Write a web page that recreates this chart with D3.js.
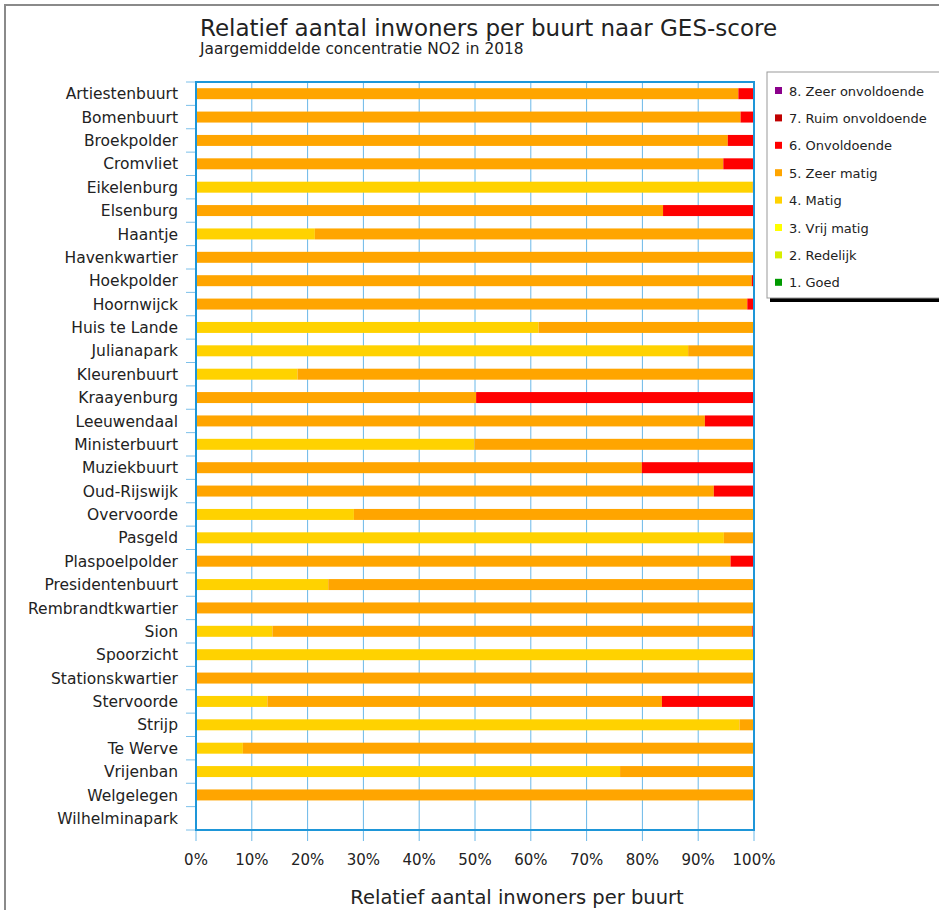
<!DOCTYPE html>
<html>
<head>
<meta charset="utf-8">
<script src="https://cdn.jsdelivr.net/npm/d3@7"></script>
<style>
  body { margin: 0; background: #fff; }
  text { font-family: "DejaVu Sans", Verdana, sans-serif; fill: #222; }
</style>
</head>
<body>
<div id="chart"></div>
<script>
// buurten, top to bottom
var buurten = ['Artiestenbuurt', 'Bomenbuurt', 'Broekpolder', 'Cromvliet', 'Eikelenburg', 'Elsenburg',
    'Haantje', 'Havenkwartier', 'Hoekpolder', 'Hoornwijck', 'Huis te Lande', 'Julianapark',
    'Kleurenbuurt', 'Kraayenburg', 'Leeuwendaal', 'Ministerbuurt', 'Muziekbuurt', 'Oud-Rijswijk',
    'Overvoorde', 'Pasgeld', 'Plaspoelpolder', 'Presidentenbuurt', 'Rembrandtkwartier', 'Sion',
    'Spoorzicht', 'Stationskwartier', 'Stervoorde', 'Strijp', 'Te Werve', 'Vrijenban',
    'Welgelegen', 'Wilhelminapark'];

// percentages per GES class
var matig = [0, 0, 0, 0, 99.7, 0, 21.3, 0, 0, 0, 61.4, 88.2, 18.2, 0, 0, 49.9, 0, 0,
    28.3, 94.6, 0, 23.7, 0, 13.7, 100, 0, 12.8, 97.4, 8.4, 76.0, 0, 0];
var zeerMatig = [97.2, 97.6, 95.3, 94.5, 0.3, 83.7, 78.7, 100, 99.6, 98.8, 38.6, 11.8, 81.8, 50.2, 91.2, 50.1, 79.9, 92.8,
    71.7, 5.4, 95.8, 76.3, 100, 86.0, 0, 100, 70.7, 2.6, 91.6, 24.0, 100, 0];
var onvoldoende = [2.8, 2.4, 4.7, 5.5, 0, 16.3, 0, 0, 0.4, 1.2, 0, 0, 0, 49.8, 8.8, 0, 20.1, 7.2,
    0, 0, 4.2, 0, 0, 0.3, 0, 0, 16.5, 0, 0, 0, 0, 0];

var klassen = ['1. Goed', '2. Redelijk', '3. Vrij matig', '4. Matig', '5. Zeer matig',
    '6. Onvoldoende', '7. Ruim onvoldoende', '8. Zeer onvoldoende'];
var kleuren = ['#009a00', '#d8ee00', '#ffff00', '#ffd200', '#ffa500', '#ff0000', '#c00000', '#8b008b'];
var xTicks = [0, 10, 20, 30, 40, 50, 60, 70, 80, 90, 100];

var rows = buurten.map(function(b, i) {
    return {
        buurt: b,
        '4. Matig': matig[i],
        '5. Zeer matig': zeerMatig[i],
        '6. Onvoldoende': onvoldoende[i]
    };
});

var W = 939, H = 910;
var margin = { top: 82, left: 196 };
var pw = 558, ph = 748;

var svg = d3.select('#chart').append('svg')
    .attr('width', W)
    .attr('height', H);

// outer frame
svg.append('rect')
    .attr('x', 5).attr('y', 5)
    .attr('width', W + 20).attr('height', H + 20)
    .attr('fill', 'none')
    .attr('stroke', '#8a8a8a')
    .attr('stroke-width', 2);

svg.append('text')
    .attr('x', 200).attr('y', 36)
    .style('font-size', '23px')
    .text('Relatief aantal inwoners per buurt naar GES-score');
svg.append('text')
    .attr('x', 200).attr('y', 54)
    .style('font-size', '15.4px')
    .text('Jaargemiddelde concentratie NO2 in 2018');

var x = d3.scaleLinear().domain([0, 100]).range([0, pw]);
var y = d3.scaleBand().domain(buurten).range([0, ph]).paddingInner(0.53).paddingOuter(0.265);
var yb = d3.scaleBand().domain(buurten).range([0, ph]);

var g = svg.append('g').attr('transform', 'translate(' + margin.left + ',' + margin.top + ')');

// vertical gridlines + ticks below
g.selectAll('.grid')
    .data(xTicks)
    .enter().append('line')
    .attr('x1', function(d) { return x(d); })
    .attr('x2', function(d) { return x(d); })
    .attr('y1', 0)
    .attr('y2', ph + 11)
    .attr('stroke', '#6bb8e8')
    .attr('stroke-width', 1);

// category tick marks on the left (band boundaries)
g.selectAll('.ytick')
    .data(buurten.concat(['end']))
    .enter().append('line')
    .attr('x1', -10).attr('x2', 0)
    .attr('y1', function(d, i) { return i * yb.step(); })
    .attr('y2', function(d, i) { return i * yb.step(); })
    .attr('stroke', '#7cc0ea')
    .attr('stroke-width', 1);

var stack = d3.stack()
    .keys(klassen)
    .value(function(d, k) { return d[k] || 0; });
var series = stack(rows);

g.selectAll('.serie')
    .data(series)
    .enter().append('g')
    .attr('fill', function(d, i) { return kleuren[i]; })
    .selectAll('rect')
    .data(function(d) { return d; })
    .enter().append('rect')
    .attr('x', function(d) { return x(d[0]); })
    .attr('width', function(d) { return x(d[1]) - x(d[0]); })
    .attr('y', function(d) { return y(d.data.buurt); })
    .attr('height', y.bandwidth());

// plot border
g.append('rect')
    .attr('width', pw).attr('height', ph)
    .attr('fill', 'none')
    .attr('stroke', '#1e96d8')
    .attr('stroke-width', 2);

// category labels
g.selectAll('.ylab')
    .data(buurten)
    .enter().append('text')
    .attr('x', -18)
    .attr('y', function(d) { return yb(d) + yb.bandwidth() / 2; })
    .attr('dy', '0.36em')
    .attr('text-anchor', 'end')
    .style('font-size', '15.5px')
    .text(function(d) { return d; });

// x labels
g.selectAll('.xlab')
    .data(xTicks)
    .enter().append('text')
    .attr('x', function(d) { return x(d); })
    .attr('y', ph + 35)
    .attr('text-anchor', 'middle')
    .style('font-size', '15px')
    .text(function(d) { return d + '%'; });

svg.append('text')
    .attr('x', 517).attr('y', 904)
    .attr('text-anchor', 'middle')
    .style('font-size', '19.5px')
    .text('Relatief aantal inwoners per buurt');

// legend
var lg = svg.append('g').attr('transform', 'translate(767,72)');
lg.append('rect')
    .attr('x', 3).attr('y', 3)
    .attr('width', 200).attr('height', 227)
    .attr('fill', '#000');
lg.append('rect')
    .attr('width', 200).attr('height', 226)
    .attr('fill', '#fff')
    .attr('stroke', '#999')
    .attr('stroke-width', 1);

var items = lg.selectAll('.item')
    .data(klassen.slice().reverse())
    .enter().append('g')
    .attr('transform', function(d, i) { return 'translate(0,' + (19 + i * 27.4) + ')'; });
items.append('rect')
    .attr('x', 8).attr('y', -4)
    .attr('width', 7).attr('height', 7)
    .attr('fill', function(d) { return kleuren[klassen.indexOf(d)]; });
items.append('text')
    .attr('x', 22)
    .attr('dy', '0.35em')
    .style('font-size', '13px')
    .text(function(d) { return d; });
</script>
</body>
</html>
